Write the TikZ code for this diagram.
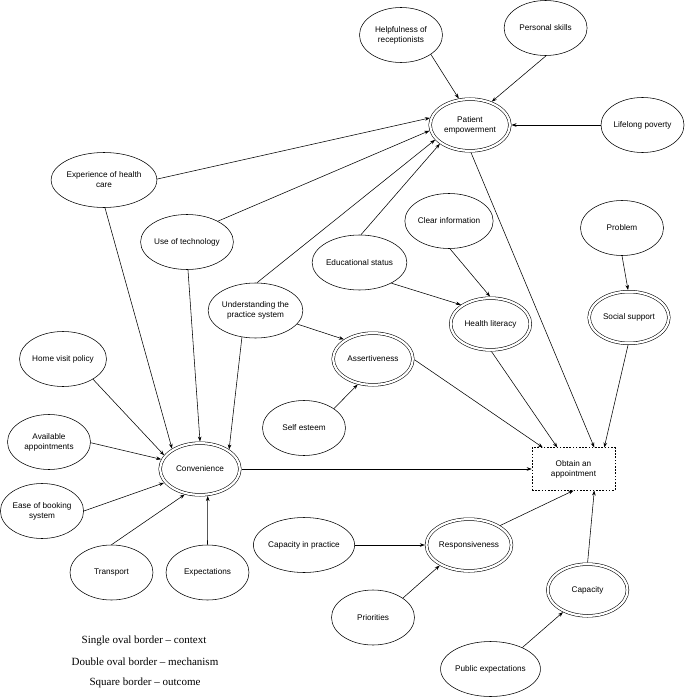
\documentclass[tikz,border=0pt]{standalone}
\usepackage{fontspec}
\setmainfont{Liberation Serif}
\newfontfamily\nodefont{Liberation Sans}
\usetikzlibrary{shapes.geometric,arrows.meta}
\begin{document}
\begin{tikzpicture}[x=1pt,y=-1pt,
  ctx/.style={ellipse,draw,line width=0.55pt,minimum width=83pt,minimum height=55pt,inner sep=0pt,align=center,font=\nodefont\fontsize{8.2}{10}\selectfont},
  mech/.style={ctx,double,double distance=2.2pt,minimum width=79.7pt,minimum height=51.7pt,outer sep=1.65pt},
  outc/.style={draw,dash pattern=on 1.6pt off 1.6pt,line width=0.55pt,minimum width=83pt,minimum height=42.5pt,inner sep=0pt,align=center,font=\nodefont\fontsize{8.2}{10}\selectfont},
  arr/.style={-{Stealth[length=5pt,width=3.6pt]},line width=0.55pt},
  legend/.style={font=\fontsize{11}{13}\selectfont}
]
\useasboundingbox (0,0) rectangle (685,698);

\node[ctx]  (help)   at (401,35)     {Helpfulness of\\receptionists};
\node[ctx]  (skills) at (545.6,28)   {Personal skills};
\node[mech] (pe)     at (470,125)    {Patient\\empowerment};
\node[ctx]  (life)   at (642.5,125)  {Lifelong poverty};
\node[ctx]  (exp)    at (104,180)    {Experience of health\\care};
\node[ctx]  (tech)   at (187,242)    {Use of technology};
\node[ctx]  (clear)  at (449,221)    {Clear information};
\node[ctx]  (edu)    at (359.5,262.5){Educational status};
\node[ctx]  (prob)   at (622,228)    {Problem};
\node[ctx]  (und)    at (255.5,310.5){Understanding the\\practice system};
\node[mech] (hl)     at (490.5,324)  {Health literacy};
\node[mech] (soc)    at (629,317.5)  {Social support};
\node[ctx]  (home)   at (63,359)     {Home visit policy};
\node[mech] (ass)    at (373,359)    {Assertiveness};
\node[ctx]  (self)   at (304,428)    {Self esteem};
\node[ctx]  (avail)  at (49,442)     {Available\\appointments};
\node[mech] (conv)   at (200,469)    {Convenience};
\node[outc] (obt)    at (573.5,469)  {Obtain an\\appointment};
\node[ctx]  (ease)   at (42,511)     {Ease of booking\\system};
\node[ctx]  (trans)  at (111.5,572.5){Transport};
\node[ctx]  (expect) at (207.5,572.5){Expectations};
\node[ctx]  (capp)   at (304,545)    {Capacity in practice};
\node[mech] (resp)   at (469,545)    {Responsiveness};
\node[ctx]  (prio)   at (373,617.5)  {Priorities};
\node[mech] (cap)    at (587.6,590)  {Capacity};
\node[ctx]  (pub)    at (490.5,669)  {Public expectations};

\node[legend] (l1) at (144,641) {Single oval border \textendash{} context};
\node[legend] (l2) at (145,662) {Double oval border \textendash{} mechanism};
\node[legend] (l3) at (145,683) {Square border \textendash{} outcome};

\draw[arr] (help.-33) -- (pe.113);
\draw[arr] (skills.-89) -- (pe.47);
\draw[arr] (life) -- (pe);
\draw[arr] (exp.1) -- (pe.170);
\draw[arr] (tech.34) -- (pe.188);
\draw[arr] (und.87) -- (pe.203);
\draw[arr] (edu.87) -- (pe.212);
\draw[arr] (pe.-88) -- (obt.46);
\draw[arr] (clear.-88) -- (hl.91);
\draw[arr] (edu.-33) -- (hl.147);
\draw[arr] (prob.-90) -- (soc.92);
\draw[arr] (hl.-88) -- (obt.127);
\draw[arr] (soc.-92) -- (obt.35);
\draw[arr] (und.-18) -- (ass.146);
\draw[arr] (self.33) -- (ass.239);
\draw[arr] (ass.-1) -- (obt.145);
\draw[arr] (exp.-88) -- (conv.144);
\draw[arr] (tech.-88) -- (conv.90);
\draw[arr] (und.-117) -- (conv.34);
\draw[arr] (home.-34) -- (conv.159);
\draw[arr] (avail.-1) -- (conv.166);
\draw[arr] (ease.0) -- (conv.201);
\draw[arr] (trans.90) -- (conv.239);
\draw[arr] (expect.90) -- (conv.-74);
\draw[arr] (conv) -- (obt);
\draw[arr] (capp) -- (resp);
\draw[arr] (prio.33) -- (resp.215);
\draw[arr] (resp.32) -- (obt.-90);
\draw[arr] (cap.90) -- (obt.-46);
\draw[arr] (pub.34) -- (cap.222);
\end{tikzpicture}
\end{document}
